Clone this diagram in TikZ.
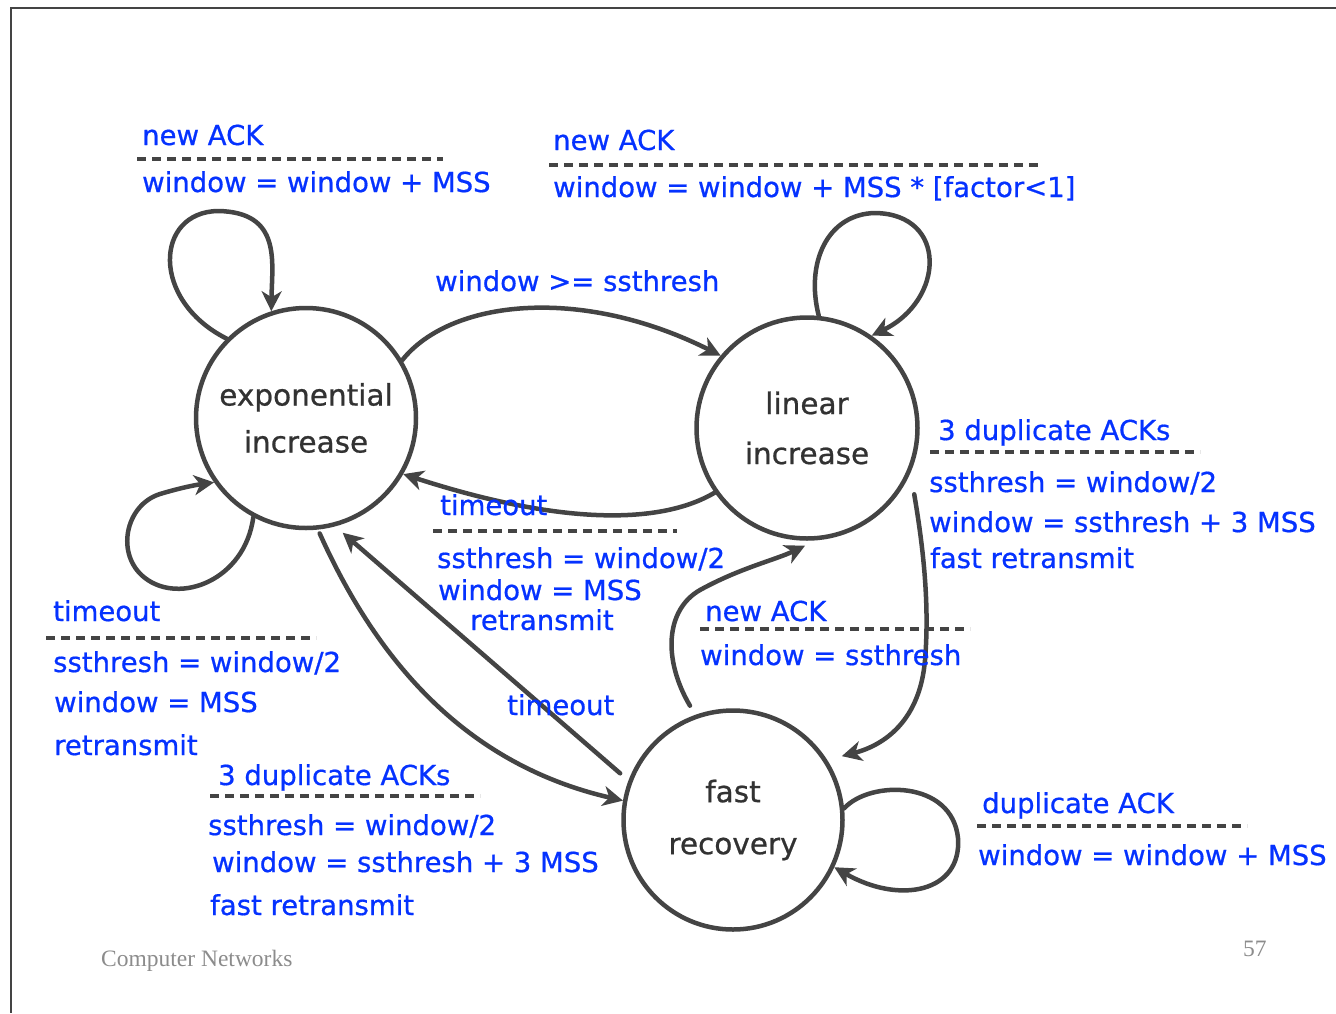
\documentclass[tikz,border=0pt]{standalone}
\usepackage{fontspec}
\setmainfont{DejaVu Sans}
\newfontfamily\handfont[FakeBold=0.7]{DejaVu Sans}
\newfontfamily\footfont{Liberation Serif}
\usetikzlibrary{arrows.meta}
\definecolor{inkblue}{RGB}{5,50,255}
\definecolor{linegray}{RGB}{68,68,68}
\definecolor{statetext}{RGB}{50,50,50}
\definecolor{footgray}{RGB}{140,140,140}
\begin{document}
\begin{tikzpicture}[x=1pt,y=-1pt,
  state/.style={circle,draw=linegray,line width=4.5pt,minimum size=220pt,inner sep=0pt,
    align=center,text=statetext},
  edge/.style={draw=linegray,line width=4.5pt,line cap=round,
    -{Stealth[length=20pt,width=20pt,inset=6pt]}},
  lbl/.style={anchor=base west,inner sep=0pt,text=inkblue,font=\handfont\fontsize{27.5}{33}\selectfont},
  rule/.style={draw=linegray,line width=3.5pt,dash pattern=on 9pt off 6pt},
  frame/.style={draw=linegray,line width=1.5pt},
  foot/.style={anchor=base west,inner sep=0pt,text=footgray,font=\footfont\fontsize{23.5}{28}\selectfont},
]
\useasboundingbox (0,0) rectangle (1336,1013);
\fill[white] (0,0) rectangle (1336,1013);
% page frame (top and left edges)
\draw[frame] (1336,8) -- (11,8) -- (11,1013);

% states
\node[state,font=\handfont\fontsize{29.5}{47}\selectfont] (exp) at (306,418) {exponential\\increase};
\node[state,minimum size=221pt,font=\handfont\fontsize{29.5}{50}\selectfont] (lin) at (807,428) {linear\\increase};
\node[state,minimum size=219pt,font=\handfont\fontsize{29.5}{52}\selectfont] (fast) at (733,820) {fast\\recovery};

% self loop on exponential increase (new ACK)
\draw[edge] (exp.135) .. controls (150,300) and (155,212) .. (218,211)
  .. controls (282,212) and (272,262) .. (exp.108);
% self loop on exponential increase (timeout)
\draw[edge] (exp.242) .. controls (245,580) and (180,605) .. (145,578)
  .. controls (115,555) and (125,505) .. (160,494)
  .. controls (180,488) and (195,485) .. (exp.215);
% exponential -> linear
\draw[edge] (exp.31) .. controls (450,300) and (580,285) .. (lin.140);
% linear -> exponential
\draw[edge] (lin.215) .. controls (660,525) and (560,525) .. (exp.-30);
% self loop on linear increase
\draw[edge] (lin.84) .. controls (805,262) and (828,214) .. (875,213)
  .. controls (948,214) and (945,300) .. (lin.55);
% linear -> fast recovery
\draw[edge] ([shift={(16,0)}]lin.-36) .. controls (922,540) and (930,600) .. (925,660)
  .. controls (920,720) and (885,745) .. ([shift={(12,-8)}]fast.30);
% fast recovery -> linear
\draw[edge] ([shift={(-3,-10)}]fast.111) .. controls (663,660) and (665,610) .. (700,590)
  .. controls (740,568) and (775,560) .. ([shift={(0,5)}]lin.-91);
% exponential -> fast recovery
\draw[edge] ([shift={(0,4)}]exp.-83) .. controls (390,690) and (490,770) .. (fast.170);
% fast recovery -> exponential
\draw[edge] ([shift={(-10,-3)}]fast.157) -- ([shift={(2,8)}]exp.-72);
% self loop on fast recovery
\draw[edge] (fast.6) .. controls (870,780) and (952,780) .. (958,838)
  .. controls (962,892) and (900,905) .. (fast.-25);

% transition labels
\node[lbl] (t1e) at (142,145) {new ACK};
\draw[rule] (137,159) -- (443,159);
\node[lbl] (t1a) at (142,192) {window = window + MSS};

\node[lbl] (t2e) at (553,150) {new ACK};
\draw[rule] (549,165) -- (1038,165);
\node[lbl] (t2a) at (553,197) {window = window + MSS * [factor<1]};

\node[lbl] (t3e) at (435,291) {window >= ssthresh};

\node[lbl] (t4e) at (440,515) {timeout};
\draw[rule] (433,531) -- (677,531);
\node[lbl] (t4a) at (437,568) {ssthresh = window/2};
\node[lbl] (t4b) at (438,600) {window = MSS};
\node[lbl] (t4c) at (470,630) {retransmit};

\node[lbl] (t5e) at (938,440) {3 duplicate ACKs};
\draw[rule] (930,452) -- (1200,452);
\node[lbl] (t5a) at (929,492) {ssthresh = window/2};
\node[lbl] (t5b) at (929,532) {window = ssthresh + 3 MSS};
\node[lbl] (t5c) at (930,568) {fast retransmit};

\node[lbl] (t6e) at (53,621) {timeout};
\draw[rule] (46,638) -- (316,638);
\node[lbl] (t6a) at (53,672) {ssthresh = window/2};
\node[lbl] (t6b) at (54,712) {window = MSS};
\node[lbl] (t6c) at (54,755) {retransmit};

\node[lbl] (t7e) at (705,621) {new ACK};
\draw[rule] (700,629) -- (970,629);
\node[lbl] (t7a) at (700,665) {window = ssthresh};

\node[lbl] (t8e) at (507,715) {timeout};

\node[lbl] (t9e) at (218,785) {3 duplicate ACKs};
\draw[rule] (210,796) -- (480,796);
\node[lbl] (t9a) at (208,835) {ssthresh = window/2};
\node[lbl] (t9b) at (212,872) {window = ssthresh + 3 MSS};
\node[lbl] (t9c) at (210,915) {fast retransmit};

\node[lbl] (t10e) at (982,813) {duplicate ACK};
\draw[rule] (977,826) -- (1247,826);
\node[lbl] (t10a) at (978,865) {window = window + MSS};

% footer
\node[foot] (course) at (101,966) {Computer Networks};
\node[foot] (page) at (1243,956) {57};
\end{tikzpicture}
\end{document}
